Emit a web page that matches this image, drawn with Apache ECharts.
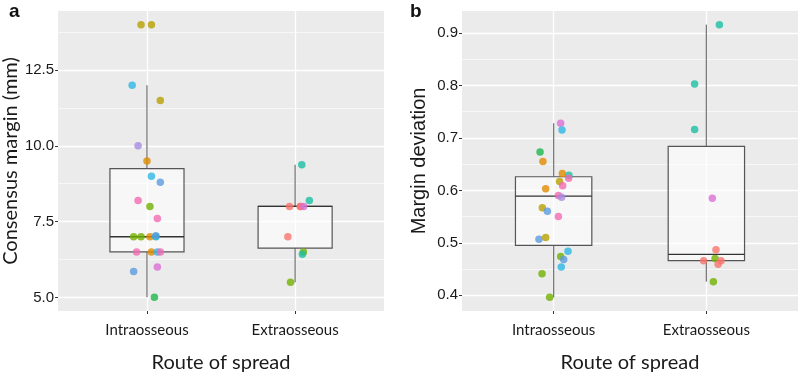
<!DOCTYPE html>
<html>
<head>
<meta charset="utf-8">
<script src="https://cdn.jsdelivr.net/npm/echarts@6/dist/echarts.min.js"></script>
<style>
  html, body { margin: 0; padding: 0; background: #fff; }
  #chart { width: 800px; height: 378px; }
</style>
</head>
<body>
<div id="chart"></div>
<script>
document.addEventListener("DOMContentLoaded", function() {

    const categories = ['Intraosseous', 'Extraosseous'];

    // panel a: consensus margin (mm)
    const aIntraValues = [14.0, 14.0, 12.0, 11.5, 10.0, 9.5, 9.0, 8.8, 8.2, 8.0, 7.6, 7.0, 7.0, 7.0, 7.0, 7.03, 6.5, 6.5, 6.5, 6.5, 6.0, 5.85, 5.0];
    const aIntraJitter = [-0.04, 0.03, -0.10, 0.09, -0.06, 0.0, 0.03, 0.09, -0.06, 0.02, 0.07, -0.09, -0.04, 0.02, 0.06, 0.06, -0.07, 0.03, 0.07, 0.09, 0.07, -0.09, 0.05];
    const aIntraGroup = ['olive', 'olive', 'sky', 'olive', 'purple', 'orange', 'sky', 'blue', 'pink', 'lime', 'pink', 'lime', 'lime', 'orange', 'cyan', 'blue', 'pink', 'orange', 'sky', 'pink', 'magenta', 'blue', 'green'];
    const aExtraValues = [9.38, 8.2, 8.0, 8.0, 8.0, 8.0, 7.0, 6.5, 6.42, 5.5];
    const aExtraJitter = [0.045, 0.096, -0.038, 0.036, 0.036, 0.058, -0.049, 0.056, 0.049, -0.031];
    const aExtraGroup = ['teal', 'teal', 'coral', 'coral', 'coral', 'magenta', 'coral', 'lime', 'teal', 'lime'];
    // [lower whisker, Q1, median, Q3, upper whisker]
    const aBoxStats = [[5.0, 6.5, 7.0, 9.25, 12.0], [5.5, 6.625, 8.0, 8.0, 9.38]];
    const aTicks = [5.0, 7.5, 10.0, 12.5];
    const aMinor = [6.25, 8.75, 11.25, 13.75];

    // panel b: margin deviation
    const bIntraValues = [0.728, 0.715, 0.673, 0.655, 0.632, 0.629, 0.623, 0.617, 0.609, 0.603, 0.590, 0.587, 0.567, 0.560, 0.550, 0.507, 0.510, 0.484, 0.474, 0.468, 0.454, 0.441, 0.396];
    const bIntraJitter = [0.046, 0.055, -0.089, -0.070, 0.057, 0.100, 0.098, 0.039, 0.059, -0.052, 0.031, 0.052, -0.074, -0.041, 0.031, -0.096, -0.052, 0.094, 0.046, 0.066, 0.050, -0.076, -0.026];
    const bIntraGroup = ['magenta', 'sky', 'green', 'orange', 'orange', 'teal', 'pink', 'olive', 'pink', 'orange', 'pink', 'purple', 'olive', 'blue', 'pink', 'blue', 'olive', 'sky', 'lime', 'blue', 'sky', 'lime', 'lime'];
    const bExtraValues = [0.916, 0.803, 0.716, 0.585, 0.487, 0.466, 0.470, 0.466, 0.459, 0.426];
    const bExtraJitter = [0.085, -0.077, -0.077, 0.039, 0.063, -0.018, 0.057, 0.096, 0.077, 0.046];
    const bExtraGroup = ['teal', 'teal', 'teal', 'magenta', 'coral', 'coral', 'lime', 'coral', 'coral', 'lime'];
    const bBoxStats = [[0.396, 0.495, 0.589, 0.626, 0.728], [0.426, 0.466, 0.478, 0.684, 0.916]];
    const bTicks = [0.4, 0.5, 0.6, 0.7, 0.8, 0.9];
    const bMinor = [0.45, 0.55, 0.65, 0.75, 0.85];

    const palette = {
        coral: '#F8766D', orange: '#E08B00', olive: '#B9A000', lime: '#70B000',
        green: '#1DB84C', teal: '#1ABFA3', cyan: '#00BCCB', sky: '#2EB6E6',
        blue: '#5B9BDF', purple: '#A98BE3', magenta: '#D96FD6', pink: '#F26AB0'
    };

    const tickFont = 'Liberation Sans';
    const catFont = 'Lato';

    const pointData = (pos, values, jitter, group) => values.map((v, i) => ({
        value: [pos + jitter[i], v],
        itemStyle: {color: palette[group[i]]}
    }));

    const boxRender = (params, api) => {
        const x = api.value(0);
        const low = api.value(1), q1 = api.value(2), med = api.value(3), q3 = api.value(4), high = api.value(5);
        const half = 0.25;
        const tl = api.coord([x - half, q3]);
        const br = api.coord([x + half, q1]);
        const ml = api.coord([x - half, med]);
        const mr = api.coord([x + half, med]);
        const wTop = api.coord([x, high]);
        const wQ3 = api.coord([x, q3]);
        const wQ1 = api.coord([x, q1]);
        const wLow = api.coord([x, low]);
        const whisker = {stroke: '#7a7a7a', lineWidth: 1.3};
        return {
            type: 'group',
            children: [
                {type: 'line', shape: {x1: wQ3[0], y1: wQ3[1], x2: wTop[0], y2: wTop[1]}, style: whisker},
                {type: 'line', shape: {x1: wQ1[0], y1: wQ1[1], x2: wLow[0], y2: wLow[1]}, style: whisker},
                {type: 'rect', shape: {x: tl[0], y: tl[1], width: br[0] - tl[0], height: br[1] - tl[1]},
                    style: {fill: 'rgba(255,255,255,0.6)', stroke: '#555', lineWidth: 1.2}},
                {type: 'line', shape: {x1: ml[0], y1: ml[1], x2: mr[0], y2: mr[1]},
                    style: {stroke: '#333', lineWidth: 1.3}}
            ]
        };
    };

    const panel = (idx, box, ticks, minor, range, yName, yFont, yGap, intra, extra) => {
        const lines = [];
        minor.forEach(v => lines.push({yAxis: v, lineStyle: {width: 0.6}}));
        ticks.forEach(v => lines.push({yAxis: v, lineStyle: {width: 1.3}}));
        [1, 2].forEach(v => lines.push({xAxis: v, lineStyle: {width: 1.3}}));
        return {
            xAxis: {
                gridIndex: idx, type: 'value', min: 0.4, max: 2.6,
                axisLine: {show: false},
                splitLine: {show: false},
                axisTick: {show: true, length: 3, customValues: [1, 2], lineStyle: {color: '#333'}},
                axisLabel: {
                    customValues: [1, 2], margin: 12,
                    formatter: v => categories[Math.round(v) - 1],
                    fontFamily: catFont, fontSize: 15, color: '#1a1a1a'
                },
                name: 'Route of spread', nameLocation: 'middle', nameGap: 42,
                nameTextStyle: {fontFamily: catFont, fontSize: 20, color: '#1a1a1a'}
            },
            yAxis: {
                gridIndex: idx, type: 'value', min: range[0], max: range[1],
                axisLine: {show: false},
                splitLine: {show: false},
                axisTick: {show: true, length: 3, customValues: ticks, lineStyle: {color: '#333'}},
                axisLabel: {
                    customValues: ticks, margin: 4,
                    formatter: v => v.toFixed(1),
                    fontFamily: tickFont, fontSize: 15, color: '#1a1a1a'
                },
                name: yName, nameLocation: 'middle', nameGap: yGap,
                nameTextStyle: {fontFamily: yFont, fontSize: 20, color: '#1a1a1a'}
            },
            series: [
                {
                    type: 'line', xAxisIndex: idx, yAxisIndex: idx, data: [], z: 1, silent: true,
                    markLine: {
                        z: 1, silent: true, symbol: ['none', 'none'], label: {show: false},
                        lineStyle: {color: '#ffffff', type: 'solid'},
                        data: lines
                    }
                },
                {
                    type: 'custom', xAxisIndex: idx, yAxisIndex: idx, z: 6,
                    renderItem: boxRender,
                    encode: {x: 0, y: [1, 2, 3, 4, 5]},
                    data: box.map((s, i) => [i + 1].concat(s))
                },
                {
                    type: 'scatter', xAxisIndex: idx, yAxisIndex: idx, z: 7,
                    symbolSize: 7.5,
                    data: pointData(1, intra[0], intra[1], intra[2]).concat(pointData(2, extra[0], extra[1], extra[2]))
                }
            ]
        };
    };

    const pa = panel(0, aBoxStats, aTicks, aMinor, [4.55, 14.45], 'Consensus margin (mm)', catFont, 36,
        [aIntraValues, aIntraJitter, aIntraGroup], [aExtraValues, aExtraJitter, aExtraGroup]);
    const pb = panel(1, bBoxStats, bTicks, bMinor, [0.370, 0.942], 'Margin deviation', tickFont, 33,
        [bIntraValues, bIntraJitter, bIntraGroup], [bExtraValues, bExtraJitter, bExtraGroup]);

    const chart = echarts.init(document.getElementById('chart'));
    chart.setOption({
        animation: false,
        backgroundColor: '#ffffff',
        grid: [
            {left: 58, top: 11, width: 326, height: 305, show: true, backgroundColor: '#EBEBEB', borderWidth: 0},
            {left: 462, top: 11, width: 336, height: 305, show: true, backgroundColor: '#EBEBEB', borderWidth: 0}
        ],
        xAxis: [pa.xAxis, pb.xAxis],
        yAxis: [pa.yAxis, pb.yAxis],
        series: pa.series.concat(pb.series),
        graphic: [
            {type: 'text', left: 9, top: 2, style: {text: 'a', font: 'bold 19px "Liberation Sans"', fill: '#111'}},
            {type: 'text', left: 410, top: 2, style: {text: 'b', font: 'bold 19px "Liberation Sans"', fill: '#111'}}
        ]
    });

});
</script>
</body>
</html>
